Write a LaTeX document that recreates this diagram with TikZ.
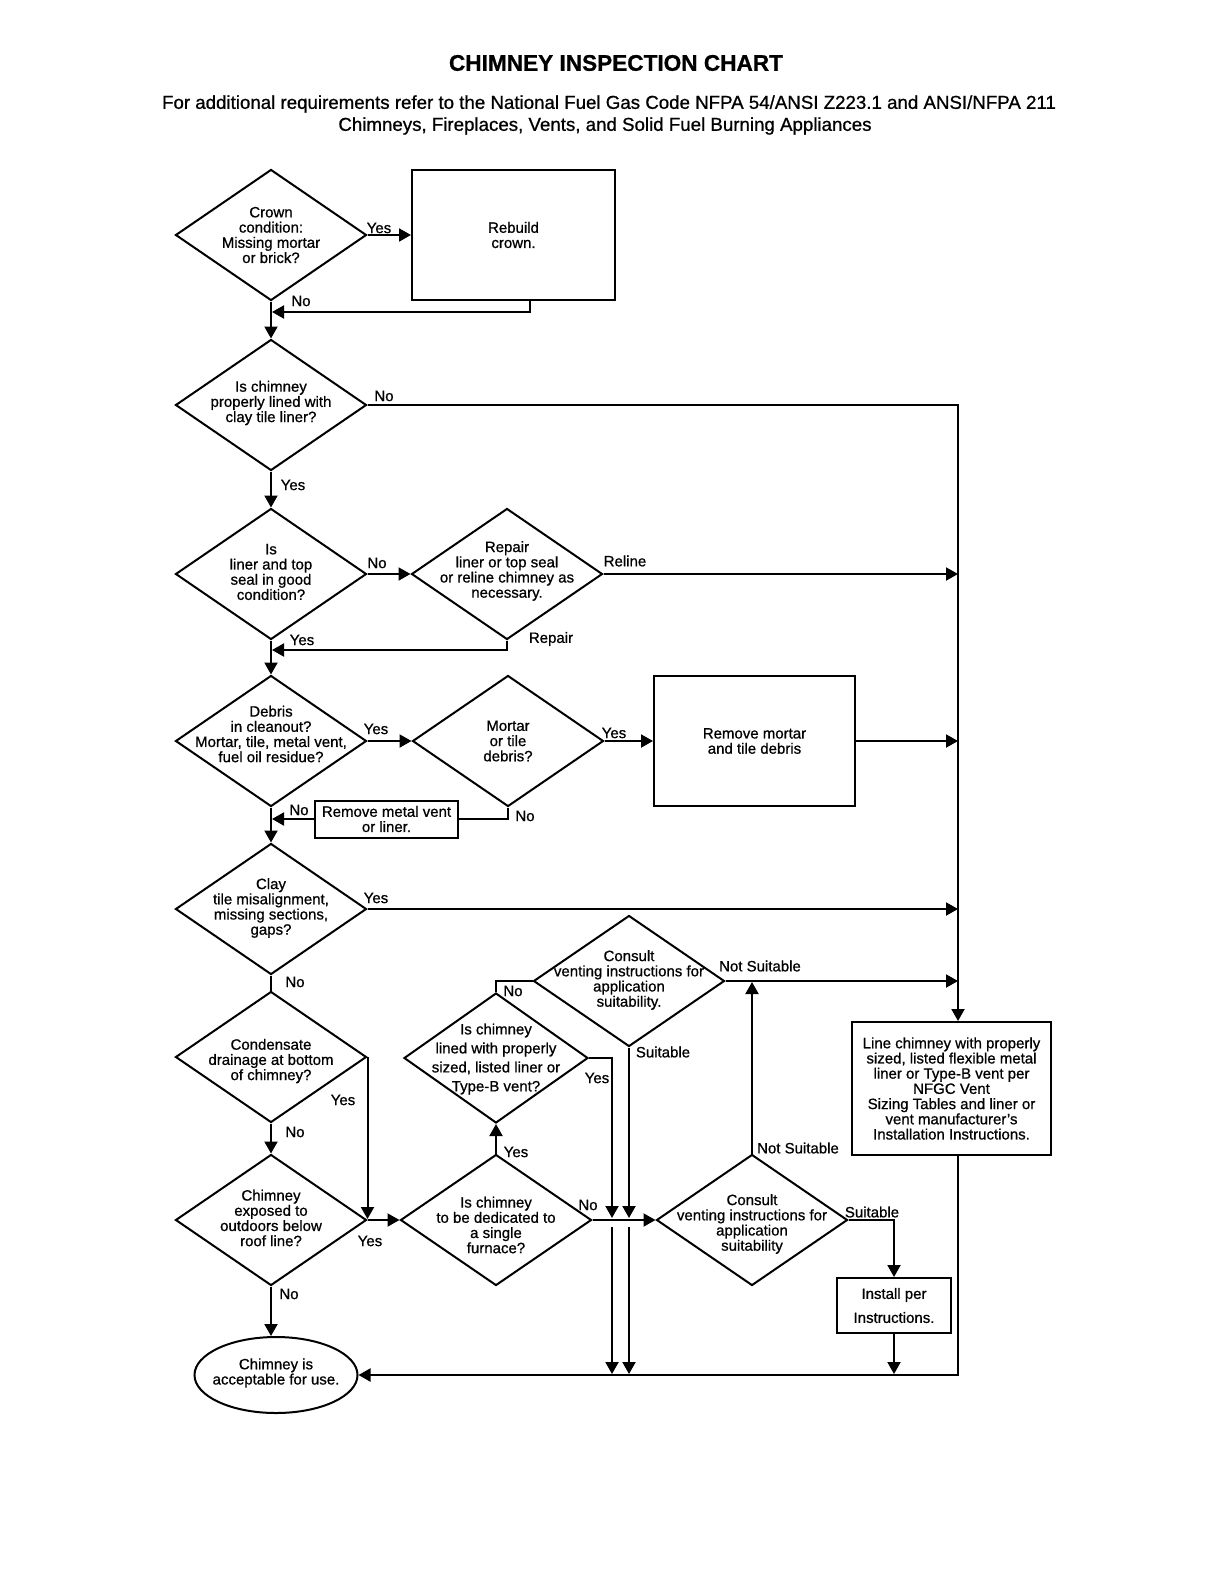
\documentclass[tikz,border=0pt]{standalone}
\usepackage{fontspec}
\setmainfont{Liberation Sans}[RawFeature={embolden=0.8}]
\usetikzlibrary{shapes.geometric,arrows.meta}
\begin{document}
\begin{tikzpicture}[x=1pt,y=-1pt,
  every node/.style={font=\fontsize{15}{15.2}\selectfont},
  dia/.style={draw, diamond, line width=2pt, minimum width=191pt, minimum height=131pt, inner sep=0pt},
  dtxt/.style={align=center, inner sep=0pt},
  box/.style={draw, rectangle, line width=2pt, align=center, inner sep=0pt},
  lbl/.style={inner sep=0pt},
  ln/.style={line width=2pt},
  arr/.style={line width=2pt, -{Triangle[length=12pt,width=13pt]}},
]
\useasboundingbox (0,0) rectangle (1224,1584);

% titles
\node[font=\fontsize{22.6}{27}\selectfont\bfseries] (title) at (616,63) {CHIMNEY INSPECTION CHART};
\node[font=\fontsize{18.7}{22}\selectfont] (sub1) at (609,104) {For additional requirements refer to the National Fuel Gas Code NFPA 54/ANSI Z223.1 and ANSI/NFPA 211};
\node[font=\fontsize{18.7}{22}\selectfont] (sub2) at (605,126) {Chimneys, Fireplaces, Vents, and Solid Fuel Burning Appliances};

% shapes
\node[dia] (d1) at (271,235) {};
\node[dtxt] (d1t) at (271,235) {Crown\\condition:\\Missing mortar\\or brick?};
\node[box, minimum width=203pt, minimum height=130pt] (b1) at (513.5,235) {Rebuild\\crown.};

\node[dia] (d2) at (271,405) {};
\node[dtxt] (d2t) at (271,403) {Is chimney\\properly lined with\\clay tile liner?};

\node[dia] (d3) at (271,574) {};
\node[dtxt] (d3t) at (271,572) {Is\\liner and top\\seal in good\\condition?};
\node[dia] (d3b) at (507,574) {};
\node[dtxt] (d3bt) at (507,571) {Repair\\liner or top seal\\or reline chimney as\\necessary.};

\node[dia] (d4) at (271,741) {};
\node[dtxt] (d4t) at (271,734) {Debris\\in cleanout?\\Mortar, tile, metal vent,\\fuel oil residue?};
\node[dia] (d4b) at (508,741) {};
\node[dtxt] (d4bt) at (508,741) {Mortar\\or tile\\debris?};
\node[box, minimum width=201pt, minimum height=130pt] (rm) at (754.5,741) {Remove mortar\\and tile debris};
\node[box, minimum width=143pt, minimum height=37pt] (rmv) at (386.5,819) {Remove metal vent\\or liner.};

\node[dia] (d5) at (271,909) {};
\node[dtxt] (d5t) at (271,908) {Clay\\tile misalignment,\\missing sections,\\gaps?};

\node[dia] (d6) at (271,1057) {};
\node[dtxt] (d6t) at (271,1061) {Condensate\\drainage at bottom\\of chimney?};

\node[dia] (d7) at (271,1220) {};
\node[dtxt] (d7t) at (271,1218) {Chimney\\exposed to\\outdoors below\\roof line?};

\node[draw, ellipse, line width=2pt, minimum width=163pt, minimum height=76pt, inner sep=0pt] (el) at (276,1375) {};
\node[dtxt] (elt) at (276,1373) {Chimney is\\acceptable for use.};

\node[dia] (d8) at (496,1220) {};
\node[dtxt] (d8t) at (496,1225) {Is chimney\\to be dedicated to\\a single\\furnace?};

\node[dia, minimum width=184pt, minimum height=130pt] (d9) at (496,1058) {};
\node[dtxt, font=\fontsize{15}{19}\selectfont] (d9t) at (496,1059) {Is chimney\\lined with properly\\sized, listed liner or\\Type-B vent?};

\node[dia] (d11) at (629,981) {};
\node[dtxt] (d11t) at (629,980) {Consult\\venting instructions for\\application\\suitability.};

\node[dia] (d10) at (752,1220) {};
\node[dtxt] (d10t) at (752,1224) {Consult\\venting instructions for\\application\\suitability};

\node[box, minimum width=114pt, minimum height=55pt, font=\fontsize{15}{24}\selectfont] (ins) at (894,1305.5) {Install per\\Instructions.};

\node[box, minimum width=199pt, minimum height=133pt] (lc) at (951.5,1088.5) {Line chimney with properly\\sized, listed flexible metal\\liner or Type-B vent per\\NFGC Vent\\Sizing Tables and liner or\\vent manufacturer's\\Installation Instructions.};

% junction coordinates
\coordinate (tr) at (958,0);
\coordinate (j1) at (272,312);
\coordinate (j2) at (272,650);
\coordinate (j3) at (272,819);
\coordinate (j4) at (367,1219);
\coordinate (j5) at (612,1218);
\coordinate (j6) at (629,1218);
\coordinate (j7) at (752,982);
\coordinate (s5) at (612,1227);
\coordinate (e5) at (612,1374);
\coordinate (s6) at (629,1227);
\coordinate (e6) at (629,1374);

% connectors
\draw[arr] (d1.east) -- (b1.west);
\draw[arr] (d1.south) -- (d2.north);
\draw[arr] ([xshift=16.5pt]b1.south) |- (j1);
\draw[arr] (d2.east) -| ([xshift=6.5pt]lc.north);
\draw[arr] (d2.south) -- (d3.north);
\draw[arr] (d3.east) -- (d3b.west);
\draw[arr] (d3b.east) -- (d3b.east -| tr);
\draw[arr] (d3b.south) |- (j2);
\draw[arr] (d3.south) -- (d4.north);
\draw[arr] (d4.east) -- (d4b.west);
\draw[arr] (d4b.east) -- (rm.west);
\draw[arr] (rm.east) -- (rm.east -| tr);
\draw[ln] (d4b.south) |- (rmv.east);
\draw[arr] (rmv.west) -- (j3);
\draw[arr] (d4.south) -- (d5.north);
\draw[arr] (d5.east) -- (d5.east -| tr);
\draw[ln] (d5.south) -- (d6.north);
\draw[arr] (d6.east) -- (d6.east |- j4);
\draw[arr] (d6.south) -- (d7.north);
\draw[arr] (d7.east) -- (d8.west);
\draw[arr] (d7.south) -- (d7.south |- el.north);
\draw[arr] (d8.north) -- (d9.south);
\draw[arr] (d8.east) -- (d10.west);
\draw[ln] (d9.north) |- (d11.west);
\draw[arr] (d9.east) -| (j5);
\draw[arr] (d11.south) -- (j6);
\draw[arr] (d11.east) -- (d11.east -| tr);
\draw[arr] (d10.north) -- (j7);
\draw[arr] (d10.east) -| (ins.north);
\draw[arr] (s5) -- (e5);
\draw[arr] (s6) -- (e6);
\draw[arr] (ins.south) -- (ins.south |- e5);
\draw[arr] ([xshift=6.5pt]lc.south) |- (el.east);

% labels
\node[lbl] (l1) at (379,228) {Yes};
\node[lbl] (l2) at (301,301) {No};
\node[lbl] (l3) at (384,396) {No};
\node[lbl] (l4) at (293,485) {Yes};
\node[lbl] (l5) at (377,563) {No};
\node[lbl] (l6) at (625,561) {Reline};
\node[lbl] (l7) at (551,639) {Repair};
\node[lbl] (l8) at (302,640) {Yes};
\node[lbl] (l9) at (376,729) {Yes};
\node[lbl] (l10) at (614,733) {Yes};
\node[lbl] (l11) at (299,810) {No};
\node[lbl] (l12) at (525,816) {No};
\node[lbl] (l13) at (376,898) {Yes};
\node[lbl] (l14) at (295,982) {No};
\node[lbl] (l15) at (760,966) {Not Suitable};
\node[lbl] (l16) at (513,991) {No};
\node[lbl] (l17) at (663,1052) {Suitable};
\node[lbl] (l18) at (597,1078) {Yes};
\node[lbl] (l19) at (343,1100) {Yes};
\node[lbl] (l20) at (295,1132) {No};
\node[lbl] (l21) at (516,1152) {Yes};
\node[lbl] (l22) at (798,1148) {Not Suitable};
\node[lbl] (l23) at (588,1205) {No};
\node[lbl] (l24) at (872,1212) {Suitable};
\node[lbl] (l25) at (370,1241) {Yes};
\node[lbl] (l26) at (289,1294) {No};
\end{tikzpicture}
\end{document}
